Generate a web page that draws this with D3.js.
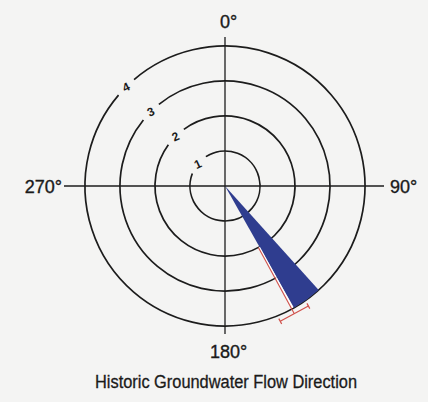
<!DOCTYPE html>
<html>
<head>
<meta charset="utf-8">
<script src="https://cdn.jsdelivr.net/npm/d3@7"></script>
<style>
  html, body { margin: 0; padding: 0; background: #f4f4f3; }
  svg { display: block; }
  text { font-family: "Liberation Sans", Arial, sans-serif; fill: #1a1a1a; }
</style>
</head>
<body>
<svg id="chart" width="428" height="402"></svg>
<script>
// ---- data ----
const ringValues = [1, 2, 3, 4];
const ringLabelBearing = 315;          // degrees, where ring numbers sit
const axisBearings = [0, 90, 180, 270];
const axisLabels = ["0°", "90°", "180°", "270°"];
const wedgeFrom = [138];               // degrees
const wedgeTo = [150.5];               // degrees
const wedgeMagnitude = [4];
const errorBearing = [151.5];          // degrees
const errorLow = [2.0];
const errorHigh = [4.15];
const title = "Historic Groundwater Flow Direction";

// ---- layout ----
const cx = 225, cy = 186;
const svg = d3.select("#chart");
const r = d3.scaleLinear().domain([0, 4]).range([0, 140]);
const rad = d => d * Math.PI / 180;
const pt = (bearing, rr) => [cx + rr * Math.sin(rad(bearing)), cy - rr * Math.cos(rad(bearing))];

const g = svg.append("g");

// rings with a gap for the label
const gapPx = 11;
ringValues.forEach(v => {
  const rr = r(v);
  const gap = gapPx / rr;
  const c = rad(ringLabelBearing - (v === 1 ? 6 : 0));
  g.append("path")
    .attr("transform", `translate(${cx},${cy})`)
    .attr("d", d3.arc()({innerRadius: rr, outerRadius: rr, startAngle: c + gap, endAngle: c + 2 * Math.PI - gap}))
    .attr("fill", "none")
    .attr("stroke", "#1c1c1c")
    .attr("stroke-width", 1.7);
});

// axes
g.append("line").attr("x1", 64).attr("x2", 384).attr("y1", cy).attr("y2", cy)
  .attr("stroke", "#1c1c1c").attr("stroke-width", 1.3);
g.append("line").attr("x1", cx).attr("x2", cx).attr("y1", 37).attr("y2", 334)
  .attr("stroke", "#1c1c1c").attr("stroke-width", 1.3);

// wedge
wedgeFrom.forEach((a, i) => {
  g.append("path")
    .attr("transform", `translate(${cx},${cy})`)
    .attr("d", d3.arc()({innerRadius: 0, outerRadius: r(wedgeMagnitude[i]), startAngle: rad(a), endAngle: rad(wedgeTo[i])}))
    .attr("fill", "#2f3d8f");
});

// error bar
errorBearing.forEach((b, i) => {
  const p0 = pt(b, r(errorLow[i])), p1 = pt(b, r(errorHigh[i]));
  const w0 = pt(b - 0.9, r(errorLow[i])), w1 = pt(b - 0.6, r(errorHigh[i]) - 6);
  g.append("line").attr("x1", w0[0]).attr("y1", w0[1]).attr("x2", w1[0]).attr("y2", w1[1])
    .attr("stroke", "#ffffff").attr("stroke-width", 1.2);
  g.append("line").attr("x1", p0[0]).attr("y1", p0[1]).attr("x2", p1[0]).attr("y2", p1[1])
    .attr("stroke", "#d0504a").attr("stroke-width", 1.1);
  const half = 16;
  const ux = Math.cos(rad(b)), uy = Math.sin(rad(b));
  const a0 = [p1[0] - ux * half, p1[1] - uy * half], a1 = [p1[0] + ux * half, p1[1] + uy * half];
  g.append("line").attr("x1", a0[0]).attr("y1", a0[1]).attr("x2", a1[0]).attr("y2", a1[1])
    .attr("stroke", "#d0504a").attr("stroke-width", 1.2);
  const ix = -Math.sin(rad(b)), iy = Math.cos(rad(b));
  [a0, a1].forEach(a => {
    g.append("line").attr("x1", a[0] - ix * 3).attr("y1", a[1] - iy * 3).attr("x2", a[0] + ix * 3).attr("y2", a[1] + iy * 3)
      .attr("stroke", "#d0504a").attr("stroke-width", 1.2);
  });
});

// ring labels
ringValues.forEach(v => {
  const p = pt(ringLabelBearing - (v === 1 ? 6 : 0), r(v));
  g.append("text")
    .attr("transform", `translate(${p[0]},${p[1]}) rotate(-25)`)
    .attr("text-anchor", "middle")
    .attr("dy", "0.35em")
    .attr("font-size", 12)
    .attr("font-weight", "bold")
    .text(v);
});

// axis labels
const labelPos = [
  {x: cx, y: 28, anchor: "middle", dx: 3.5},
  {x: 390, y: 192.5, anchor: "start", dx: 0},
  {x: cx, y: 358, anchor: "middle", dx: 3.5},
  {x: 62, y: 192.5, anchor: "end", dx: 0}
];
axisBearings.forEach((b, i) => {
  g.append("text")
    .attr("x", labelPos[i].x + labelPos[i].dx)
    .attr("y", labelPos[i].y)
    .attr("text-anchor", labelPos[i].anchor)
    .attr("font-size", 18)
    .attr("stroke", "#1a1a1a").attr("stroke-width", 0.35)
    .text(axisLabels[i]);
});

// title
svg.append("text")
  .attr("x", 226).attr("y", 388)
  .attr("text-anchor", "middle")
  .attr("font-size", 18)
  .attr("textLength", 262)
  .attr("lengthAdjust", "spacingAndGlyphs")
  .attr("stroke", "#1a1a1a").attr("stroke-width", 0.3)
  .text(title);
</script>
</body>
</html>
